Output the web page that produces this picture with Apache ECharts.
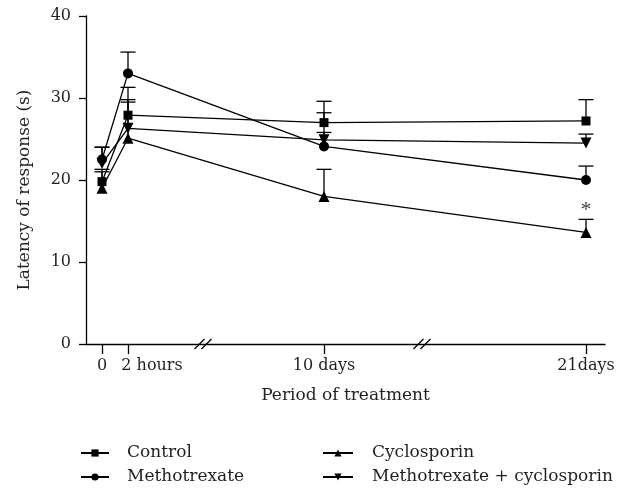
<!DOCTYPE html>
<html>
<head>
<meta charset="utf-8">
<script src="https://cdn.jsdelivr.net/npm/echarts@6/dist/echarts.min.js"></script>
<style>
  html, body { margin: 0; padding: 0; background: #fff; }
  #main { width: 626px; height: 491px; }
</style>
</head>
<body>
<div id="main"></div>
<script>
// x axis is broken: each time point sits at its own slot along the axis
const xLabels = ['0', '2 hours', '10 days', '21days'];
const xSlots = [16, 42, 238, 500];
// "2 hours" is nudged right in the original so it clears the "0"
const labelSlots = [16, 66, 238, 500];
const breakSlots = [117, 336];

// mean latency (s) and top of the error bar
const control = [19.8, 27.9, 27.0, 27.2];
const controlErr = [21.3, 31.3, 29.6, 29.8];
const methotrexate = [22.5, 33.0, 24.1, 20.0];
const methotrexateErr = [24.0, 35.6, 28.2, 21.7];
const cyclosporin = [19.0, 25.1, 18.0, 13.6];
const cyclosporinErr = [21.0, 29.5, 21.3, 15.2];
const combo = [22.0, 26.3, 24.9, 24.5];
const comboErr = [24.0, 29.8, 25.8, 25.6];

// significance mark
const starPoint = [500, 16.6];

const TXT = '#231f20';
const FONT = 'DejaVu Serif';

function pts(vals) {
  return vals.map((v, i) => [xSlots[i], v]);
}
function errPts(vals, tops) {
  return vals.map((v, i) => [xSlots[i], v, tops[i]]);
}

const errData = [].concat(
  errPts(control, controlErr),
  errPts(methotrexate, methotrexateErr),
  errPts(cyclosporin, cyclosporinErr),
  errPts(combo, comboErr)
);

let myChart = echarts.init(document.getElementById('main'));

const lineBase = {
  type: 'line',
  lineStyle: { color: '#000', width: 1.3 },
  itemStyle: { color: '#000' },
  z: 3,
  animation: false
};

const legendText = { fontFamily: FONT, fontSize: 17, color: TXT, lineHeight: 18 };

myChart.setOption({
  animation: false,
  textStyle: { fontFamily: FONT, color: TXT },
  grid: { left: 86, top: 16, width: 519, height: 328, containLabel: false },
  legend: [
    {
      left: 80, top: 444, orient: 'vertical', itemGap: 6, padding: 0,
      itemWidth: 28, itemHeight: 9,
      textStyle: Object.assign({ padding: [0, 0, 0, 13] }, legendText),
      data: ['Control', 'Methotrexate']
    },
    {
      left: 322, top: 444, orient: 'vertical', itemGap: 6, padding: 0,
      itemWidth: 30, itemHeight: 9,
      textStyle: Object.assign({ padding: [0, 0, 0, 14] }, legendText),
      data: ['Cyclosporin', 'Methotrexate + cyclosporin']
    }
  ],
  xAxis: {
    type: 'value',
    min: 0,
    max: 519,
    name: 'Period of treatment',
    nameLocation: 'middle',
    nameGap: 43,
    nameTextStyle: { fontFamily: FONT, fontSize: 17, color: TXT },
    axisLine: { lineStyle: { color: '#000', width: 1.3 } },
    axisTick: { customValues: xSlots, length: 10, lineStyle: { color: '#000', width: 1.3 } },
    axisLabel: {
      customValues: labelSlots,
      margin: 14,
      hideOverlap: false,
      fontFamily: FONT, fontSize: 16, color: TXT,
      formatter: (v) => xLabels[labelSlots.indexOf(v)]
    },
    splitLine: { show: false }
  },
  yAxis: {
    type: 'value',
    min: 0,
    max: 40,
    interval: 10,
    name: 'Latency of response (s)',
    nameLocation: 'middle',
    nameGap: 53,
    nameTextStyle: { fontFamily: FONT, fontSize: 17, color: TXT, padding: [0, 20, 0, 0] },
    axisLine: { show: true, lineStyle: { color: '#000', width: 1.3 } },
    axisTick: { show: true, length: 7, lineStyle: { color: '#000', width: 1.3 } },
    axisLabel: { margin: 15, fontFamily: FONT, fontSize: 16, color: TXT },
    splitLine: { show: false }
  },
  series: [
    {
      type: 'custom',
      name: 'errors',
      data: errData,
      z: 2,
      clip: false,
      renderItem: function (params, api) {
        const base = api.coord([api.value(0), api.value(1)]);
        const top = api.coord([api.value(0), api.value(2)]);
        const half = 7.5;
        return {
          type: 'group',
          children: [
            { type: 'line', shape: { x1: base[0], y1: base[1], x2: top[0], y2: top[1] },
              style: { stroke: '#000', lineWidth: 1.3 } },
            { type: 'line', shape: { x1: top[0] - half, y1: top[1], x2: top[0] + half, y2: top[1] },
              style: { stroke: '#000', lineWidth: 1.3 } }
          ]
        };
      }
    },
    {
      type: 'custom',
      name: 'breaks',
      data: breakSlots.map((s) => [s, 0]),
      z: 4,
      clip: false,
      renderItem: function (params, api) {
        const p = api.coord([api.value(0), api.value(1)]);
        const kids = [-3.5, 3.5].map((dx) => ({
          type: 'line',
          shape: { x1: p[0] + dx - 5, y1: p[1] + 5, x2: p[0] + dx + 5, y2: p[1] - 5 },
          style: { stroke: '#000', lineWidth: 1.3 }
        }));
        return { type: 'group', children: kids };
      }
    },
    {
      type: 'custom',
      name: 'star',
      data: [starPoint],
      z: 4,
      clip: false,
      renderItem: function (params, api) {
        const p = api.coord([api.value(0), api.value(1)]);
        return {
          type: 'text',
          x: p[0], y: p[1] + 2,
          style: { text: '*', fontFamily: 'Liberation Serif', fontSize: 22, fill: '#444',
                   align: 'center', verticalAlign: 'middle' }
        };
      }
    },
    Object.assign({}, lineBase, { name: 'Control', data: pts(control), symbol: 'rect', symbolSize: 9 }),
    Object.assign({}, lineBase, { name: 'Methotrexate', data: pts(methotrexate), symbol: 'circle', symbolSize: 10 }),
    Object.assign({}, lineBase, { name: 'Cyclosporin', data: pts(cyclosporin), symbol: 'triangle', symbolSize: 11 }),
    Object.assign({}, lineBase, { name: 'Methotrexate + cyclosporin', data: pts(combo), symbol: 'triangle', symbolSize: 11, symbolRotate: 180 })
  ]
});
</script>
</body>
</html>
